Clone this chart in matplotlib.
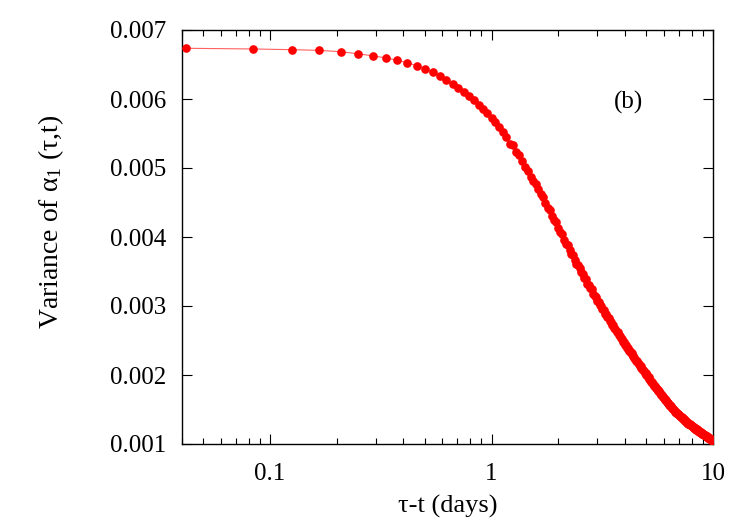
import numpy as np
import matplotlib
matplotlib.use("Agg")
import matplotlib.pyplot as plt
from matplotlib.ticker import FixedLocator, NullFormatter, FixedFormatter

# horizon in hours (one point per hour, 1..240 h)
horizon_hours = list(range(1, 241))

# variance of alpha_1, in units of 1e-6
variance_micro = [
    6735, 6725, 6715, 6705, 6685, 6655, 6625, 6595, 6562, 6525,
    6483, 6438, 6390, 6338, 6280, 6220, 6162, 6102, 6045, 5985,
    5920, 5858, 5792, 5727, 5662, 5595, 5515, 5450, 5345, 5335,
    5230, 5190, 5100, 5020, 4950, 4875, 4815, 4775, 4690, 4620,
    4585, 4500, 4420, 4385, 4305, 4240, 4215, 4130, 4075, 4040,
    3960, 3905, 3890, 3815, 3760, 3745, 3670, 3610, 3600, 3545,
    3490, 3470, 3400, 3385, 3320, 3310, 3255, 3240, 3180, 3145,
    3135, 3075, 3065, 3010, 3000, 2950, 2935, 2890, 2885, 2835,
    2825, 2780, 2770, 2725, 2720, 2680, 2670, 2625, 2620, 2575,
    2570, 2530, 2525, 2485, 2480, 2440, 2435, 2395, 2395, 2355,
    2350, 2315, 2315, 2280, 2272, 2240, 2238, 2205, 2200, 2170,
    2165, 2135, 2130, 2098, 2094, 2066, 2060, 2032, 2028, 2000,
    1995, 1968, 1964, 1936, 1933, 1905, 1902, 1876, 1872, 1846,
    1843, 1818, 1815, 1790, 1787, 1763, 1761, 1737, 1735, 1711,
    1709, 1686, 1683, 1660, 1659, 1637, 1635, 1613, 1611, 1590,
    1588, 1568, 1565, 1546, 1544, 1525, 1524, 1505, 1504, 1486,
    1484, 1467, 1466, 1449, 1448, 1432, 1432, 1416, 1416, 1401,
    1400, 1386, 1387, 1372, 1372, 1358, 1358, 1344, 1344, 1330,
    1331, 1318, 1319, 1306, 1307, 1294, 1295, 1282, 1283, 1270,
    1271, 1259, 1261, 1249, 1251, 1239, 1241, 1229, 1231, 1219,
    1221, 1209, 1211, 1199, 1201, 1189, 1191, 1179, 1181, 1169,
    1171, 1159, 1161, 1150, 1151, 1141, 1143, 1133, 1135, 1125,
    1127, 1117, 1119, 1109, 1110, 1101, 1102, 1093, 1094, 1085,
    1086, 1077, 1078, 1069, 1070, 1061, 1062, 1053, 1054, 1045,
]

x_ticks = [0.1, 1, 10]
x_tick_labels = ["0.1", "1", "10"]
y_ticks = [0.001, 0.002, 0.003, 0.004, 0.005, 0.006, 0.007]
y_tick_labels = ["0.001", "0.002", "0.003", "0.004", "0.005", "0.006", "0.007"]

x = np.array(horizon_hours) / 24.0
y = np.array(variance_micro) * 1e-6

plt.rcParams['font.family'] = ['Liberation Serif', 'DejaVu Serif']
plt.rcParams['mathtext.fontset'] = 'custom'
plt.rcParams['mathtext.rm'] = 'Liberation Serif'
plt.rcParams['mathtext.it'] = 'Liberation Serif:italic'

fig = plt.figure(figsize=(7.5, 5.25), dpi=100)
ax = fig.add_axes([182/750, 1-444/525, (713-182)/750, (444-30)/525])

ax.plot(x, y, '-', color='#ff6060', lw=0.8, zorder=2)
ax.plot(x, y, 'o', color='#ff0000', ms=5.2, mec='#ff0000', zorder=3, lw=0)

ax.set_xscale('log')
ax.set_xlim(0.04, 10)
ax.set_ylim(0.001, 0.007)

ax.xaxis.set_major_locator(FixedLocator(x_ticks))
ax.xaxis.set_major_formatter(FixedFormatter(x_tick_labels))
minor = [m * d for d in (0.01, 0.1, 1) for m in range(2, 10) if 0.04 <= m * d <= 10]
ax.xaxis.set_minor_locator(FixedLocator(minor))
ax.xaxis.set_minor_formatter(NullFormatter())
ax.yaxis.set_major_locator(FixedLocator(y_ticks))
ax.yaxis.set_major_formatter(FixedFormatter(y_tick_labels))

ax.tick_params(which='both', direction='in', top=True, right=True, labelsize=18, width=0.8)
ax.tick_params(which='major', length=7)
ax.tick_params(which='minor', length=4)
ax.tick_params(axis='x', which='major', pad=14)
ax.tick_params(axis='y', which='major', pad=11)
for s in ax.spines.values():
    s.set_linewidth(1.0)

fig.text(448/750, 1-506/525, 'τ-t (days)', fontsize=19, ha='center', va='center')
fig.text(51/750, 1-222/525, 'Variance of α$_1$ (τ,t)', fontsize=20, ha='center', va='center', rotation=90)
ax.text(0.84, 0.824, '(b)', transform=ax.transAxes, fontsize=18, ha='center', va='center')

fig.savefig('out.png', dpi=100)
